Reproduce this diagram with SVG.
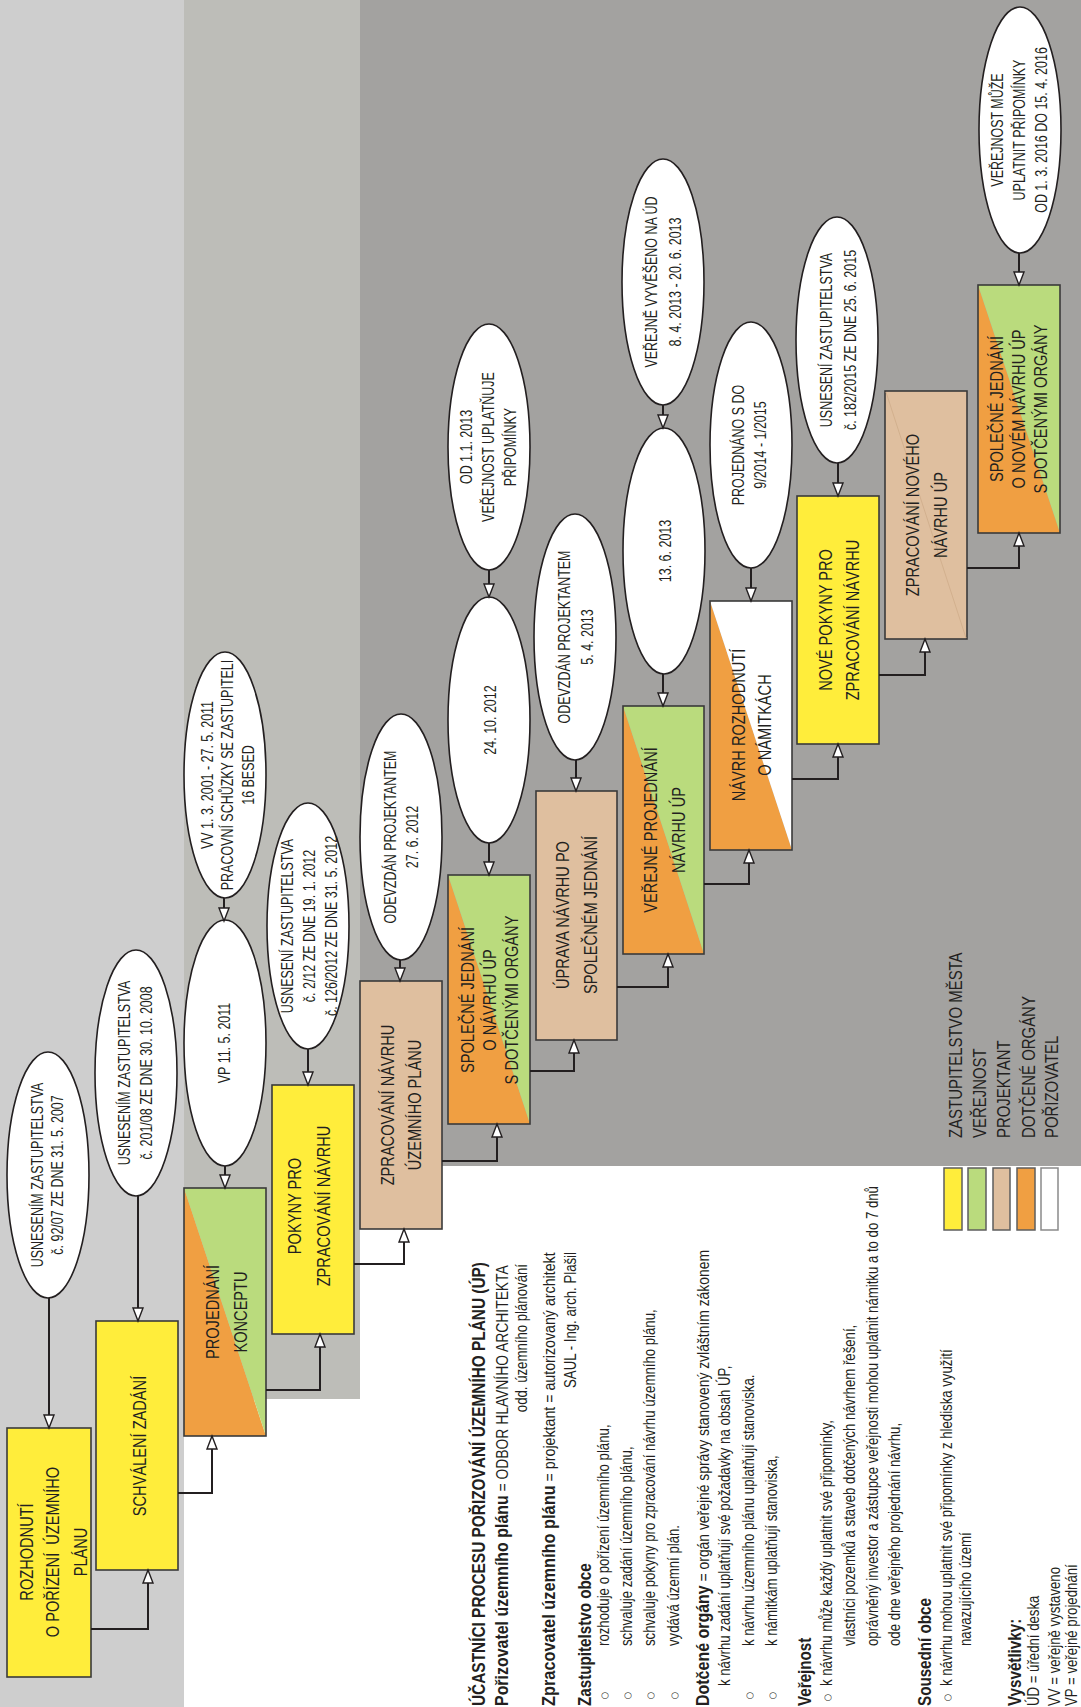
<svg xmlns="http://www.w3.org/2000/svg" width="1081" height="1707" viewBox="0 0 1081 1707">
<defs>
<style>
.t{font-family:"Liberation Sans",Arial,Helvetica,sans-serif;fill:#231f20}
.nb{font-size:18.5px}
.ne{font-size:15.8px}
.lg{font-size:18px}
.bl{font-size:16.5px}
.bb{font-size:19px;font-weight:bold}
.box{stroke:#3a3a3a;stroke-width:1.6}
.ol{fill:none;stroke:#3a3a3a;stroke-width:1.6}
.ell{fill:#fff;stroke:#231f20;stroke-width:1.6}
.yel{fill:#ffed3b}
.grn{fill:#badb7d}
.tan{fill:#dfbf9f}
.org{fill:#f09f42}
.wht{fill:#fff}
.con{fill:none;stroke:#231f20;stroke-width:2;marker-end:url(#arr)}
.bul{font-family:"DejaVu Sans",sans-serif;font-size:9px;fill:#231f20}
.sw{stroke:#5e5e5e;stroke-width:1.5}
</style>
<marker id="arr" markerUnits="userSpaceOnUse" markerWidth="16" markerHeight="14" refX="14" refY="6" orient="auto"><path d="M1,1 L14,6 L1,11 Z" fill="#fff" stroke="#231f20" stroke-width="1.4"/></marker>
</defs>
<rect x="0" y="0" width="1081" height="1707" fill="#fff"/>
<g id="bands">
<rect x="0" y="0" width="184" height="1707" fill="#cecece"/>
<rect x="184" y="0" width="176" height="1399" fill="#bdbdb8"/>
<rect x="360" y="0" width="721" height="1166" fill="#a3a2a0"/>
</g>

<g id="e1"><ellipse class="ell" cx="48" cy="1175" rx="41" ry="123"/>
<text class="t ne" text-anchor="middle" transform="translate(42.7,1175) rotate(-90) scale(0.79,1)"><tspan x="0" y="0">USNESENÍM ZASTUPITELSTVA</tspan><tspan x="0" y="20">č. 92/07 ZE DNE 31. 5. 2007</tspan></text></g>

<g id="b1"><rect class="box yel" x="7" y="1428" width="84" height="249"/>
<text class="t nb" text-anchor="middle" transform="translate(33,1552) rotate(-90) scale(0.79,1)"><tspan x="0" y="0">ROZHODNUTÍ</tspan><tspan x="0" y="26">O POŘÍZENÍ&#160; ÚZEMNÍHO</tspan><tspan x="0" y="54">PLÁNU</tspan></text></g>

<g id="e2"><ellipse class="ell" cx="136" cy="1073" rx="41" ry="123"/>
<text class="t ne" text-anchor="middle" transform="translate(129.7,1073) rotate(-90) scale(0.79,1)"><tspan x="0" y="0">USNESENÍM ZASTUPITELSTVA</tspan><tspan x="0" y="22">č. 201/08 ZE DNE 30. 10. 2008</tspan></text></g>

<g id="b2"><rect class="box yel" x="96" y="1321" width="82" height="249"/>
<text class="t nb" text-anchor="middle" transform="translate(145.6,1446) rotate(-90) scale(0.79,1)">SCHVÁLENÍ ZADÁNÍ</text></g>

<g id="e4"><ellipse class="ell" cx="225" cy="775" rx="41" ry="123"/>
<text class="t ne" text-anchor="middle" transform="translate(212.7,775) rotate(-90) scale(0.79,1)"><tspan x="0" y="0">VV 1. 3. 2001 - 27. 5. 2011</tspan><tspan x="0" y="20.5">PRACOVNÍ SCHŮZKY SE ZASTUPITELI</tspan><tspan x="0" y="41">16 BESED</tspan></text></g>

<g id="e3"><ellipse class="ell" cx="225" cy="1043" rx="41" ry="123"/>
<text class="t ne" text-anchor="middle" transform="translate(229.7,1043) rotate(-90) scale(0.79,1)">VP 11. 5. 2011</text></g>

<g id="b3"><polygon class="org" points="184,1188 184,1436 266,1436"/><polygon class="grn" points="184,1188 266,1188 266,1436"/><rect class="ol" x="184" y="1188" width="82" height="248"/>
<text class="t nb" text-anchor="middle" transform="translate(218.6,1312) rotate(-90) scale(0.79,1)"><tspan x="0" y="0">PROJEDNÁNÍ</tspan><tspan x="0" y="28">KONCEPTU</tspan></text></g>

<g id="e5"><ellipse class="ell" cx="308" cy="926" rx="41" ry="123"/>
<text class="t ne" text-anchor="middle" transform="translate(292.7,926) rotate(-90) scale(0.79,1)"><tspan x="0" y="0">USNESENÍ ZASTUPITELSTVA</tspan><tspan x="0" y="22">č. 2/12 ZE DNE 19. 1. 2012</tspan><tspan x="0" y="44">č. 126/2012 ZE DNE 31. 5. 2012</tspan></text></g>

<g id="b4"><rect class="box yel" x="272" y="1085" width="82" height="249"/>
<text class="t nb" text-anchor="middle" transform="translate(300.6,1206) rotate(-90) scale(0.79,1)"><tspan x="0" y="0">POKYNY PRO</tspan><tspan x="0" y="29">ZPRACOVÁNÍ NÁVRHU</tspan></text></g>

<g id="e6"><ellipse class="ell" cx="401" cy="837" rx="41" ry="123"/>
<text class="t ne" text-anchor="middle" transform="translate(395.7,837) rotate(-90) scale(0.79,1)"><tspan x="0" y="0">ODEVZDÁN PROJEKTANTEM</tspan><tspan x="0" y="22">27. 6. 2012</tspan></text></g>

<g id="b5"><rect class="box tan" x="360" y="981" width="82" height="248"/>
<text class="t nb" text-anchor="middle" transform="translate(393.6,1105) rotate(-90) scale(0.79,1)"><tspan x="0" y="0">ZPRACOVÁNÍ NÁVRHU</tspan><tspan x="0" y="27">ÚZEMNÍHO PLÁNU</tspan></text></g>

<g id="e8"><ellipse class="ell" cx="489" cy="447" rx="41" ry="123"/>
<text class="t ne" text-anchor="middle" transform="translate(471.7,447) rotate(-90) scale(0.79,1)"><tspan x="0" y="0">OD 1.1. 2013</tspan><tspan x="0" y="22">VEŘEJNOST UPLATŇUJE</tspan><tspan x="0" y="44">PŘIPOMÍNKY</tspan></text></g>

<g id="e7"><ellipse class="ell" cx="489" cy="720" rx="41" ry="123"/>
<text class="t ne" text-anchor="middle" transform="translate(495.7,720) rotate(-90) scale(0.79,1)">24. 10. 2012</text></g>

<g id="b6"><polygon class="org" points="448,875 448,1124 530,1124"/><polygon class="grn" points="448,875 530,875 530,1124"/><rect class="ol" x="448" y="875" width="82" height="249"/>
<text class="t nb" text-anchor="middle" transform="translate(473.6,1000) rotate(-90) scale(0.79,1)"><tspan x="0" y="0">SPOLEČNÉ JEDNÁNÍ</tspan><tspan x="0" y="22">O NÁVRHU ÚP</tspan><tspan x="0" y="44">S DOTČENÝMI ORGÁNY</tspan></text></g>

<g id="e9"><ellipse class="ell" cx="575" cy="637" rx="41" ry="123"/>
<text class="t ne" text-anchor="middle" transform="translate(569.7,637) rotate(-90) scale(0.79,1)"><tspan x="0" y="0">ODEVZDÁN PROJEKTANTEM</tspan><tspan x="0" y="23">5. 4. 2013</tspan></text></g>

<g id="b7"><rect class="box tan" x="536" y="791" width="81" height="249"/>
<text class="t nb" text-anchor="middle" transform="translate(568.6,915) rotate(-90) scale(0.79,1)"><tspan x="0" y="0">ÚPRAVA NÁVRHU PO</tspan><tspan x="0" y="28">SPOLEČNÉM JEDNÁNÍ</tspan></text></g>

<g id="e11"><ellipse class="ell" cx="663" cy="282" rx="41" ry="123"/>
<text class="t ne" text-anchor="middle" transform="translate(656.7,282) rotate(-90) scale(0.79,1)"><tspan x="0" y="0">VEŘEJNĚ VYVĚŠENO NA ÚD</tspan><tspan x="0" y="24">8. 4. 2013 - 20. 6. 2013</tspan></text></g>

<g id="e10"><ellipse class="ell" cx="664" cy="551" rx="41" ry="123"/>
<text class="t ne" text-anchor="middle" transform="translate(670.7,551) rotate(-90) scale(0.79,1)">13. 6. 2013</text></g>

<g id="b8"><polygon class="org" points="623,706 623,954 704,954"/><polygon class="grn" points="623,706 704,706 704,954"/><rect class="ol" x="623" y="706" width="81" height="248"/>
<text class="t nb" text-anchor="middle" transform="translate(656.6,830) rotate(-90) scale(0.79,1)"><tspan x="0" y="0">VEŘEJNÉ PROJEDNÁNÍ</tspan><tspan x="0" y="28">NÁVRHU ÚP</tspan></text></g>

<g id="e12"><ellipse class="ell" cx="751" cy="445" rx="41" ry="123"/>
<text class="t ne" text-anchor="middle" transform="translate(743.7,445) rotate(-90) scale(0.79,1)"><tspan x="0" y="0">PROJEDNÁNO S DO</tspan><tspan x="0" y="22">9/2014 - 1/2015</tspan></text></g>

<g id="b9"><polygon class="org" points="710,601 710,850 792,850"/><polygon class="wht" points="710,601 792,601 792,850"/><rect class="ol" x="710" y="601" width="82" height="249"/>
<text class="t nb" text-anchor="middle" transform="translate(744.6,725) rotate(-90) scale(0.79,1)"><tspan x="0" y="0">NÁVRH ROZHODNUTÍ</tspan><tspan x="0" y="26">O NÁMITKÁCH</tspan></text></g>

<g id="e13"><ellipse class="ell" cx="837" cy="340" rx="41" ry="123"/>
<text class="t ne" text-anchor="middle" transform="translate(831.7,340) rotate(-90) scale(0.79,1)"><tspan x="0" y="0">USNESENÍ ZASTUPITELSTVA</tspan><tspan x="0" y="24">č. 182/2015 ZE DNE 25. 6. 2015</tspan></text></g>

<g id="b10"><rect class="box yel" x="797" y="496" width="82" height="248"/>
<text class="t nb" text-anchor="middle" transform="translate(831.6,620) rotate(-90) scale(0.79,1)"><tspan x="0" y="0">NOVÉ POKYNY PRO</tspan><tspan x="0" y="27">ZPRACOVÁNÍ NÁVRHU</tspan></text></g>

<g id="b11"><rect class="box tan" x="885" y="391" width="82" height="248"/><line x1="886" y1="392" x2="966" y2="638" stroke="#d2b08e" stroke-width="1"/>
<text class="t nb" text-anchor="middle" transform="translate(918.6,515) rotate(-90) scale(0.79,1)"><tspan x="0" y="0">ZPRACOVÁNÍ NOVÉHO</tspan><tspan x="0" y="28">NÁVRHU ÚP</tspan></text></g>

<g id="e14"><ellipse class="ell" cx="1020" cy="130" rx="41" ry="123"/>
<text class="t ne" text-anchor="middle" transform="translate(1002.7,130) rotate(-90) scale(0.79,1)"><tspan x="0" y="0">VEŘEJNOST MŮŽE</tspan><tspan x="0" y="22">UPLATNIT PŘIPOMÍNKY</tspan><tspan x="0" y="44">OD 1. 3. 2016 DO 15. 4. 2016</tspan></text></g>

<g id="b12"><polygon class="org" points="978,285 978,533 1060,533"/><polygon class="grn" points="978,285 1060,285 1060,533"/><rect class="ol" x="978" y="285" width="82" height="248"/>
<text class="t nb" text-anchor="middle" transform="translate(1002.6,409) rotate(-90) scale(0.79,1)"><tspan x="0" y="0">SPOLEČNÉ JEDNÁNÍ</tspan><tspan x="0" y="22">O NOVÉM NÁVRHU ÚP</tspan><tspan x="0" y="44">S DOTČENÝMI ORGÁNY</tspan></text></g>

<g id="connectors">
<path class="con" d="M49,1298 V1428"/>
<path class="con" d="M138,1196 V1321"/>
<path class="con" d="M224,898 V921"/>
<path class="con" d="M225,1166 V1188"/>
<path class="con" d="M308,1049 V1085"/>
<path class="con" d="M400,960 V981"/>
<path class="con" d="M489,570 V597"/>
<path class="con" d="M489,843 V875"/>
<path class="con" d="M576,760 V791"/>
<path class="con" d="M663,405 V428"/>
<path class="con" d="M663,674 V706"/>
<path class="con" d="M751,568 V601"/>
<path class="con" d="M838,463 V496"/>
<path class="con" d="M1019,253 V285"/>
<path class="con" d="M91,1629 H148 V1570"/>
<path class="con" d="M178,1493 H212 V1436"/>
<path class="con" d="M266,1390 H320 V1334"/>
<path class="con" d="M354,1264 H404 V1229"/>
<path class="con" d="M442,1161 H497 V1124"/>
<path class="con" d="M530,1071 H574 V1040"/>
<path class="con" d="M617,987 H668 V954"/>
<path class="con" d="M704,884 H749 V850"/>
<path class="con" d="M792,779 H838 V744"/>
<path class="con" d="M879,675 H925 V639"/>
<path class="con" d="M967,568 H1019 V533"/>
</g>

<g id="legend">
<rect class="sw" x="944" y="1168" width="18" height="62" fill="#ffed3b"/>
<rect class="sw" x="968" y="1168" width="18" height="62" fill="#badb7d"/>
<rect class="sw" x="993" y="1168" width="17" height="62" fill="#dfbf9f"/>
<rect class="sw" x="1017" y="1168" width="18" height="62" fill="#f09f42"/>
<rect x="1041" y="1168" width="17" height="62" fill="#fff" stroke="#8a8a8a" stroke-width="1.5"/>
<text class="t lg" transform="translate(962,1138) rotate(-90) scale(0.83,1)"><tspan x="0" y="0">ZASTUPITELSTVO MĚSTA</tspan><tspan x="0" y="24">VEŘEJNOST</tspan><tspan x="0" y="48">PROJEKTANT</tspan><tspan x="0" y="73">DOTČENÉ ORGÁNY</tspan><tspan x="0" y="96">POŘIZOVATEL</tspan></text>
</g>

<g id="notes">
<text class="t bb" transform="translate(485,1706) rotate(-90) scale(0.8,1)" textLength="555" lengthAdjust="spacingAndGlyphs">ÚČASTNÍCI PROCESU POŘIZOVÁNÍ ÚZEMNÍHO PLÁNU (ÚP)</text>
<text class="t bl" transform="translate(508,1706) rotate(-90) scale(0.8,1)" textLength="551" lengthAdjust="spacingAndGlyphs"><tspan font-weight="bold" font-size="19">Pořizovatel územního plánu</tspan> = ODBOR HLAVNÍHO ARCHITEKTA</text>
<text class="t bl" text-anchor="end" transform="translate(527,1264) rotate(-90) scale(0.8,1)">odd. územního plánování</text>
<text class="t bl" transform="translate(555,1706) rotate(-90) scale(0.8,1)" textLength="567" lengthAdjust="spacingAndGlyphs"><tspan font-weight="bold" font-size="19">Zpracovatel územního plánu</tspan> = projektant = autorizovaný architekt</text>
<text class="t bl" text-anchor="end" transform="translate(576,1252) rotate(-90) scale(0.8,1)">SAUL - Ing. arch. Plašil</text>
<text class="t bb" transform="translate(591,1706) rotate(-90) scale(0.8,1)">Zastupitelstvo obce</text>
<text class="t bl" transform="translate(609,1646) rotate(-90) scale(0.8,1)">rozhoduje o pořízení územního plánu,</text>
<text class="t bl" transform="translate(632,1646) rotate(-90) scale(0.8,1)">schvaluje zadání územního plánu,</text>
<text class="t bl" transform="translate(655,1646) rotate(-90) scale(0.8,1)">schvaluje pokyny pro zpracování návrhu územního plánu,</text>
<text class="t bl" transform="translate(679,1646) rotate(-90) scale(0.8,1)">vydává územní plán.</text>
<text class="t bl" transform="translate(709,1706) rotate(-90) scale(0.8,1)" textLength="570" lengthAdjust="spacingAndGlyphs"><tspan font-weight="bold" font-size="19">Dotčené orgány</tspan> = orgán veřejné správy stanovený zvláštním zákonem</text>
<text class="t bl" transform="translate(730,1686) rotate(-90) scale(0.8,1)">k návrhu zadání uplatňují své požadavky na obsah ÚP,</text>
<text class="t bl" transform="translate(754,1646) rotate(-90) scale(0.8,1)">k návrhu územního plánu uplatňují stanoviska.</text>
<text class="t bl" transform="translate(777,1646) rotate(-90) scale(0.8,1)">k námitkám uplatňují stanoviska,</text>
<text class="t bb" transform="translate(811,1706) rotate(-90) scale(0.8,1)">Veřejnost</text>
<text class="t bl" transform="translate(832,1686) rotate(-90) scale(0.8,1)">k návrhu může každý uplatnit své připomínky,</text>
<text class="t bl" transform="translate(855,1646) rotate(-90) scale(0.8,1)">vlastníci pozemků a staveb dotčených návrhem řešení,</text>
<text class="t bl" transform="translate(878,1646) rotate(-90) scale(0.8,1)">oprávněný investor a zástupce veřejnosti mohou uplatnit námitku a to do 7 dnů</text>
<text class="t bl" transform="translate(900,1646) rotate(-90) scale(0.8,1)">ode dne veřejného projednání návrhu,</text>
<text class="t bb" transform="translate(931,1706) rotate(-90) scale(0.8,1)">Sousední obce</text>
<text class="t bl" transform="translate(952,1686) rotate(-90) scale(0.8,1)">k návrhu mohou uplatnit své připomínky z hlediska využití</text>
<text class="t bl" transform="translate(971,1646) rotate(-90) scale(0.8,1)">navazujícího území</text>
<text class="t bb" transform="translate(1021,1706) rotate(-90) scale(0.8,1)">Vysvětlivky:</text>
<text class="t bl" transform="translate(1039,1706) rotate(-90) scale(0.8,1)">ÚD = úřední deska</text>
<text class="t bl" transform="translate(1060,1706) rotate(-90) scale(0.8,1)">VV = veřejně vystaveno</text>
<text class="t bl" transform="translate(1077,1706) rotate(-90) scale(0.8,1)">VP = veřejné projednání</text>
<g class="bul" text-anchor="middle" dominant-baseline="central">
<text x="605" y="1695">○</text>
<text x="628" y="1695">○</text>
<text x="651" y="1695">○</text>
<text x="675" y="1695">○</text>
<text x="750" y="1695">○</text>
<text x="773" y="1695">○</text>
<text x="828" y="1697">○</text>
<text x="948" y="1697">○</text>
</g>
</g>
</svg>
